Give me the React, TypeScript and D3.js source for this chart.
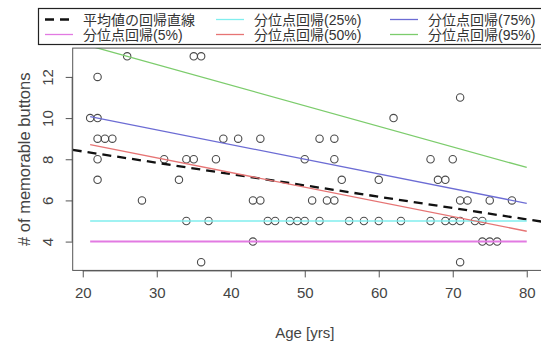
import React, { useEffect, useRef } from "react";
import * as d3 from "d3";

// observations (age, number of memorable buttons)
const ages = [
  26, 22, 21, 22, 22, 23, 24, 22, 31, 34, 22, 33, 28, 34,
  35, 36, 35, 38, 39, 41, 44, 50, 43, 44, 37, 45, 46, 48, 49, 50, 43, 36,
  62, 52, 54, 54, 55, 60, 51, 53, 54, 52, 56, 58, 60, 63,
  71, 67, 70, 68, 69, 71, 72, 75, 78, 67, 69, 70, 71, 73, 74, 74, 75, 76, 71,
];
const buttons = [
  13, 12, 10, 10, 9, 9, 9, 8, 8, 8, 7, 7, 6, 5,
  13, 13, 8, 8, 9, 9, 9, 8, 6, 6, 5, 5, 5, 5, 5, 5, 4, 3,
  10, 9, 9, 8, 7, 7, 6, 6, 6, 5, 5, 5, 5, 5,
  11, 8, 8, 7, 7, 6, 6, 6, 6, 5, 5, 5, 5, 5, 5, 4, 4, 4, 3,
];

// fitted lines: intercept / slope
const lineNames = ["mean", "q05", "q25", "q50", "q75", "q95"];
const intercepts = [9.48, 4, 5, 10.214, 11.571, 15.6];
const slopes = [-0.055, 0, 0, -0.0714, -0.0714, -0.1];
const lineColors = ["#111111", "#e27ae2", "#80eeee", "#e67474", "#6c6cd4", "#7ccc6c"];

const legendLabels = [
  "平均値の回帰直線",
  "分位点回帰(5%)",
  "分位点回帰(25%)",
  "分位点回帰(50%)",
  "分位点回帰(75%)",
  "分位点回帰(95%)",
];

const xTicks = [20, 30, 40, 50, 60, 70, 80];
const yTicks = [4, 6, 8, 10, 12];

const FONT = "'Liberation Sans', Arial, 'Noto Sans CJK JP', sans-serif";

export default function App() {
  const ref = useRef<SVGSVGElement>(null);

  useEffect(() => {
    const svg = d3.select(ref.current);
    svg.selectAll("*").remove();

    const left = 72.7, right = 544.2, top = 48.1, bottom = 270.4;

    const x = d3.scaleLinear().domain([18.64, 82.36]).range([left, right]);
    const y = d3.scaleLinear().domain([2.6, 13.4]).range([bottom, top]);

    svg.append("defs")
      .append("clipPath")
      .attr("id", "plotclip")
      .append("rect")
      .attr("x", left)
      .attr("y", top)
      .attr("width", right - left)
      .attr("height", bottom - top);

    const data = ages.map((a, i) => ({ age: a, n: buttons[i] }));

    // points
    svg.append("g")
      .selectAll("circle")
      .data(data)
      .enter()
      .append("circle")
      .attr("cx", (d) => x(d.age))
      .attr("cy", (d) => y(d.n))
      .attr("r", 3.7)
      .attr("fill", "none")
      .attr("stroke", "#4a4a4a")
      .attr("stroke-width", 1.1);

    // regression lines
    const lines = svg.append("g").attr("clip-path", "url(#plotclip)");
    lineNames.forEach((name, i) => {
      const x0 = name === "mean" ? 18.64 : 21;
      const x1 = name === "mean" ? 82.36 : 80;
      const line = d3.line<number>()
        .x((a) => x(a))
        .y((a) => y(intercepts[i] + slopes[i] * a));
      lines.append("path")
        .attr("d", line([x0, x1]))
        .attr("fill", "none")
        .attr("stroke", lineColors[i])
        .attr("stroke-width", name === "mean" ? 2.3 : name === "q05" ? 2 : 1.3)
        .attr("stroke-dasharray", name === "mean" ? "9,6" : null);
    });

    // box
    svg.append("rect")
      .attr("x", left)
      .attr("y", top)
      .attr("width", right - left)
      .attr("height", bottom - top)
      .attr("fill", "none")
      .attr("stroke", "#555")
      .attr("stroke-width", 1);

    // x axis
    const xAxis = svg.append("g")
      .attr("transform", `translate(0,${bottom})`)
      .call(d3.axisBottom(x).tickValues(xTicks).tickSize(7).tickPadding(10).tickFormat(d3.format("d")));
    xAxis.select(".domain").attr("stroke", "#555").attr("d", `M${x(20)},0.5H${x(80)}`);
    xAxis.selectAll(".tick line").attr("stroke", "#555");
    xAxis.selectAll("text")
      .style("font-family", FONT)
      .style("font-size", "15px")
      .attr("fill", "#444");

    // y axis
    const yAxis = svg.append("g")
      .attr("transform", `translate(${left},0)`)
      .call(d3.axisLeft(y).tickValues(yTicks).tickSize(7).tickFormat(d3.format("d")));
    yAxis.select(".domain").attr("stroke", "#555").attr("d", `M-0.5,${y(4)}V${y(12)}`);
    yAxis.selectAll(".tick line").attr("stroke", "#555");
    yAxis.selectAll("text")
      .attr("x", null)
      .attr("dy", null)
      .attr("transform", "translate(-25,0) rotate(-90)")
      .attr("text-anchor", "middle")
      .attr("dominant-baseline", "central")
      .style("font-family", FONT)
      .style("font-size", "15px")
      .attr("fill", "#444");

    // axis titles
    svg.append("text")
      .attr("x", x(50))
      .attr("y", 332)
      .attr("text-anchor", "middle")
      .attr("dominant-baseline", "central")
      .style("font-family", FONT)
      .style("font-size", "15px")
      .attr("fill", "#444")
      .text("Age [yrs]");

    svg.append("text")
      .attr("transform", `translate(24,${(top + bottom) / 2}) rotate(-90)`)
      .attr("text-anchor", "middle")
      .attr("dominant-baseline", "central")
      .style("font-family", FONT)
      .style("font-size", "16.5px")
      .attr("fill", "#444")
      .text("# of memorable buttons");

    // legend
    const legend = svg.append("g");
    legend.append("rect")
      .attr("x", 38.5)
      .attr("y", 8.5)
      .attr("width", 520)
      .attr("height", 36)
      .attr("fill", "white")
      .attr("stroke", "#222")
      .attr("stroke-width", 1.2);

    const colX = [45, 216, 390];
    const rowY = [19.5, 34.5];
    legendLabels.forEach((label, i) => {
      const col = Math.floor(i / 2);
      const row = i % 2;
      const g = legend.append("g").attr("transform", `translate(${colX[col]},${rowY[row]})`);
      g.append("line")
        .attr("x1", 0)
        .attr("x2", 28)
        .attr("stroke", lineColors[i])
        .attr("stroke-width", i === 0 ? 2.3 : 1.3)
        .attr("stroke-dasharray", i === 0 ? "9,6" : null);
      g.append("text")
        .attr("x", 38)
        .attr("dominant-baseline", "central")
        .style("font-family", FONT)
        .style("font-size", "14px")
        .attr("fill", "#333")
        .text(label);
    });
  }, []);

  return (
    <svg
      ref={ref}
      width={541}
      height={341}
      style={{ position: "absolute", left: 0, top: 0, background: "white" }}
    />
  );
}
